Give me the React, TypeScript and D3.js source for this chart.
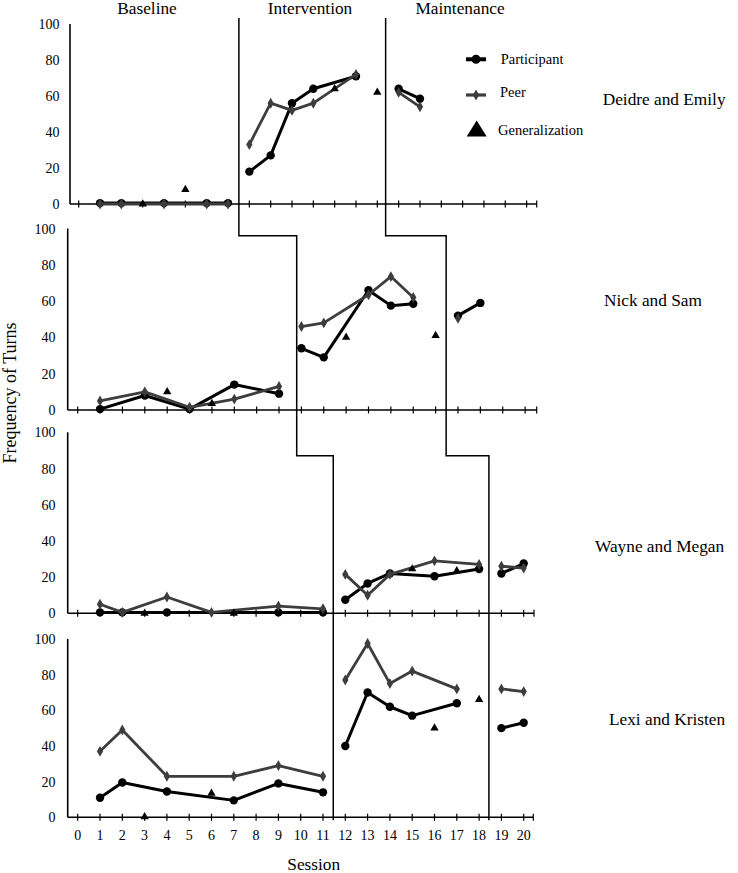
import React from "react";
import * as d3 from "d3";

// ---------- DATA ----------
const sessionTicks = d3.range(0, 21);
const yTicks = [0, 20, 40, 60, 80, 100];
const phaseNames = ["Baseline", "Intervention", "Maintenance"];
const pairNames = ["Deidre and Emily", "Nick and Sam", "Wayne and Megan", "Lexi and Kristen"];
const legendNames = ["Participant", "Peer", "Generalization"];

type Pt = [number, number];

const deidreParticipant: Pt[] = [[1, 0.5], [2, 0.5], [4, 0.5], [6, 0.5], [7, 0.5], [8, 18], [9, 27], [10, 56], [11, 64], [13, 71], [15, 64], [16, 58.5]];
const deidrePeer: Pt[] = [[1, 0], [2, 0], [4, 0], [6, 0], [7, 0], [8, 33], [9, 56], [10, 52], [11, 56], [13, 72], [15, 62], [16, 54]];
const deidreGeneralization: Pt[] = [[3, 0], [5, 8], [12, 64], [14, 62]];

const nickParticipant: Pt[] = [[1, 0.5], [3, 8], [5, 0.5], [7, 14], [9, 9], [10, 34], [11, 29], [13, 66], [14, 57.5], [15, 58.5], [17, 52], [18, 59]];
const nickPeer: Pt[] = [[1, 5], [3, 10], [5, 1.5], [7, 6], [9, 13], [10, 46], [11, 48], [13, 63.5], [14, 73.5], [15, 62], [17, 50.5]];
const nickGeneralization: Pt[] = [[4, 10], [6, 3.5], [12, 40], [16, 41]];

const wayneParticipant: Pt[] = [[1, 0.5], [2, 0.5], [4, 0.5], [9, 0.5], [11, 0.5], [12, 7.5], [13, 16.5], [14, 22], [16, 20.5], [18, 24.5], [19, 22], [20, 27.5]];
const waynePeer: Pt[] = [[1, 5], [2, 0.5], [4, 9], [6, 0.5], [9, 4], [11, 2.5], [12, 21.5], [13, 10], [14, 21.5], [16, 29], [18, 27], [19, 26], [20, 25]];
const wayneGeneralization: Pt[] = [[3, 0], [7, 0], [15, 24.5], [17, 23.5]];

const lexiParticipant: Pt[] = [[1, 11], [2, 19.5], [4, 14.5], [7, 9.5], [9, 19], [11, 14], [12, 40], [13, 70], [14, 62], [15, 57], [17, 64], [19, 50], [20, 53]];
const lexiPeer: Pt[] = [[1, 37], [2, 49], [4, 23], [7, 23], [9, 29], [11, 23], [12, 77], [13, 97.5], [14, 75], [15, 82], [17, 72], [19, 72], [20, 70.5]];
const lexiGeneralization: Pt[] = [[3, 0.3], [6, 13.5], [16, 50], [18, 66]];

// phase change positions (in session units) per panel
const phaseChangeA = [7.51, 9.79, 11.46, 11.46];
const phaseChangeB = [14.39, 16.47, 18.44, 18.44];
const stepValues = [96, 87]; // where the staircase steps, in panel 2 and 3 values

// ---------- LAYOUT ----------
const W = 738, H = 873;
const FONT = "'Liberation Serif', 'Times New Roman', serif";
const PEER_COLOR = "#3d3d3d";

const panels = [
  { x0: 78.7, dx: 21.33, axisX: 70, axisEnd: 536.7, yTop: 24, yBottom: 204, maxTick: 21, labelRight: 59.5,
    participant: deidreParticipant, peer: deidrePeer, gen: deidreGeneralization, nameX: 602.7, nameY: 104.5 },
  { x0: 77.7, dx: 22.37, axisX: 67.7, axisEnd: 536.7, yTop: 228.5, yBottom: 410, maxTick: 20, labelRight: 55.5,
    participant: nickParticipant, peer: nickPeer, gen: nickGeneralization, nameX: 604, nameY: 306 },
  { x0: 77.7, dx: 22.3, axisX: 67.7, axisEnd: 534, yTop: 432.3, yBottom: 613.3, maxTick: 20, labelRight: 55.5,
    participant: wayneParticipant, peer: waynePeer, gen: wayneGeneralization, nameX: 595, nameY: 552 },
  { x0: 77.7, dx: 22.3, axisX: 67.7, axisEnd: 533.3, yTop: 639, yBottom: 817.3, maxTick: 20, labelRight: 55.5,
    participant: lexiParticipant, peer: lexiPeer, gen: lexiGeneralization, nameX: 609, nameY: 725 },
];

function splitPhases(pts: Pt[], a: number, b: number): Pt[][] {
  return [pts.filter(p => p[0] < a), pts.filter(p => p[0] > a && p[0] < b), pts.filter(p => p[0] > b)];
}

export default function App() {
  const scales = panels.map(p => ({
    x: d3.scaleLinear().domain([0, 20]).range([p.x0, p.x0 + 20 * p.dx]),
    y: d3.scaleLinear().domain([0, 100]).range([p.yBottom, p.yTop]),
  }));

  const diamond = d3.symbol().type(d3.symbolDiamond).size(34)() as string;
  const triangle = d3.symbol().type(d3.symbolTriangle).size(30)() as string;
  const bigTriangle = "M0,-9 L10,7 L-10,7 Z";

  const stairPath = (vals: number[]) => {
    const s = scales;
    const top = 18;
    const y2 = s[1].y(stepValues[0]);
    const y3 = s[2].y(stepValues[1]);
    const bottom = panels[3].yBottom + 3;
    const xa = s[0].x(vals[0]);
    const xb = s[1].x(vals[1]);
    const xc = s[2].x(vals[2]);
    return `M${xa},${top} V${y2} H${xb} V${y3} H${xc} V${bottom}`;
  };

  return (
    <svg width={W} height={H} style={{ position: "absolute", left: 0, top: 0, background: "#fff" }} fontFamily={FONT}>
      {/* phase titles */}
      {phaseNames.map((n, i) => (
        <text key={n} x={[147, 310, 460][i]} y={14} textAnchor="middle" fontSize={17.3} fill="#000">{n}</text>
      ))}

      {panels.map((p, pi) => {
        const { x, y } = scales[pi];
        const line = d3.line<Pt>().x(d => x(d[0])).y(d => y(d[1]));
        const a = phaseChangeA[pi], b = phaseChangeB[pi];
        const partSegs = splitPhases(p.participant, a, b);
        const peerSegs = splitPhases(p.peer, a, b);
        const ticks = d3.range(0, p.maxTick + 1);
        return (
          <g key={pi}>
            {/* y axis */}
            <line x1={p.axisX} x2={p.axisX} y1={p.yTop} y2={p.yBottom} stroke="#000" strokeWidth={1.6} />
            {yTicks.map(t => (
              <text key={t} x={p.labelRight} y={y(t) + 5} textAnchor="end" fontSize={14} fill="#000">{t}</text>
            ))}
            {/* x axis */}
            <line x1={p.axisX} x2={p.axisEnd} y1={p.yBottom} y2={p.yBottom} stroke="#000" strokeWidth={1.6} />
            {ticks.map(t => (
              <line key={t} x1={x(t)} x2={x(t)} y1={p.yBottom - 3.5} y2={p.yBottom + 3.5} stroke="#000" strokeWidth={1.2} />
            ))}
            <line x1={p.axisEnd} x2={p.axisEnd} y1={p.yBottom - 3.5} y2={p.yBottom + 3.5} stroke="#000" strokeWidth={1.2} />

            {/* participant */}
            {partSegs.map((seg, si) => seg.length > 1 ? (
              <path key={"pl" + si} d={line(seg) || ""} fill="none" stroke="#000" strokeWidth={3} strokeLinejoin="round" />
            ) : null)}
            {p.participant.map((d, i) => (
              <circle key={"pc" + i} cx={x(d[0])} cy={y(d[1])} r={4.2} fill="#000" />
            ))}
            {/* peer */}
            {peerSegs.map((seg, si) => seg.length > 1 ? (
              <path key={"ql" + si} d={line(seg) || ""} fill="none" stroke={PEER_COLOR} strokeWidth={2.8} strokeLinejoin="round" />
            ) : null)}
            {p.peer.map((d, i) => (
              <path key={"qd" + i} d={diamond} transform={`translate(${x(d[0])},${y(d[1])})`} fill={PEER_COLOR} />
            ))}
            {/* generalization */}
            {p.gen.map((d, i) => (
              <path key={"g" + i} d={triangle} transform={`translate(${x(d[0])},${y(d[1])})`} fill="#000" />
            ))}

            {/* pair name */}
            <text x={p.nameX} y={p.nameY} fontSize={17.3} fill="#000">{pairNames[pi]}</text>
          </g>
        );
      })}

      {/* phase change lines */}
      <path d={stairPath(phaseChangeA)} fill="none" stroke="#000" strokeWidth={1.5} />
      <path d={stairPath(phaseChangeB)} fill="none" stroke="#000" strokeWidth={1.5} />

      {/* x tick labels */}
      {sessionTicks.map(t => (
        <text key={t} x={scales[3].x(t)} y={840} textAnchor="middle" fontSize={14} fill="#000">{t}</text>
      ))}
      <text x={313.7} y={870} textAnchor="middle" fontSize={17.3} fill="#000">Session</text>
      <text transform="translate(15.5,393) rotate(-90)" textAnchor="middle" fontSize={18} fill="#000">Frequency of Turns</text>

      {/* legend */}
      <g>
        <line x1={466} x2={486} y1={59.3} y2={59.3} stroke="#000" strokeWidth={4} />
        <circle cx={476} cy={59.3} r={4.5} fill="#000" />
        <text x={500.7} y={64} fontSize={14.5} fill="#000">{legendNames[0]}</text>
        <line x1={466} x2={486} y1={95} y2={95} stroke={PEER_COLOR} strokeWidth={3.2} />
        <path d={diamond} transform="translate(476,95)" fill={PEER_COLOR} />
        <text x={500} y={96.7} fontSize={14.5} fill="#000">{legendNames[1]}</text>
        <path d={bigTriangle} transform="translate(476.7,129.5)" fill="#000" />
        <text x={498} y={134.5} fontSize={14.5} fill="#000">{legendNames[2]}</text>
      </g>
    </svg>
  );
}
